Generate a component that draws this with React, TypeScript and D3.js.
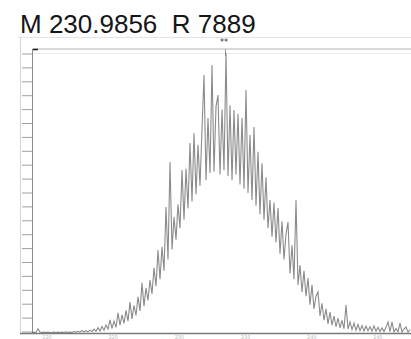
import React from "react";
import * as d3 from "d3";

const titleText = "M 230.9856  R 7889";
const startPx = 32;
const stepPx = 2;
const intensities: number[] = [
  0.2, 0.3, 0.2, 1.5, 0.3, 0.2, 0.3, 0.2, 0.3, 0.2,
  0.2, 0.3, 0.2, 0.3, 0.2, 0.3, 0.2, 0.4, 0.2, 0.3,
  0.2, 0.5, 0.3, 0.6, 0.3, 0.9, 0.4, 0.8, 0.4, 1.0,
  0.5, 1.4, 0.6, 1.9, 0.7, 2.3, 1.0, 2.8, 1.4, 4.6,
  1.6, 4.2, 2.0, 7.1, 2.8, 6.4, 3.4, 8.0, 4.2, 10.9,
  5.0, 9.8, 6.2, 12.8, 7.8, 17.7, 9.5, 16.0, 11.5, 18.7,
  13.8, 23.0, 16.5, 29.3, 19.0, 30.5, 22.0, 44.5, 26.0, 60.4,
  29.5, 41.0, 33.0, 45.5, 37.0, 57.6, 40.0, 58.0, 44.0, 67.1,
  46.5, 70.7, 49.0, 66.5, 52.0, 72.0, 91.2, 54.0, 76.0, 56.5,
  94.7, 57.0, 80.0, 84.1, 56.0, 79.0, 57.5, 98.9, 55.5, 80.5,
  54.0, 78.8, 56.0, 77.5, 52.5, 76.0, 51.0, 85.9, 49.5, 70.0,
  47.0, 72.8, 45.0, 64.0, 42.0, 60.0, 40.0, 55.0, 37.0, 47.0,
  34.0, 46.0, 32.0, 44.2, 28.0, 39.5, 26.0, 35.0, 39.2, 21.0,
  31.0, 19.0, 47.0, 17.0, 24.0, 14.5, 22.0, 13.0, 19.4, 10.0,
  17.0, 8.5, 13.0, 14.5, 6.0, 10.5, 4.5, 8.5, 3.2, 7.4,
  2.8, 6.0, 2.2, 5.3, 1.8, 4.5, 1.5, 9.9, 1.4, 3.9,
  1.2, 3.5, 1.0, 3.0, 0.8, 2.6, 0.7, 2.4, 0.8, 2.2,
  0.6, 2.5, 0.6, 2.0, 0.5, 1.8, 0.5, 2.0, 3.9, 0.5,
  3.9, 0.4, 1.6, 0.4, 3.5, 0.3, 1.4, 2.1, 0.3, 1.2,
];
const yTickCount = 21;
const xTickLabels = ["220", "225", "230", "235", "240", "245"];

export default function App() {
  const W = 411, H = 339;
  const plotLeft = 32, plotTop = 49, plotBottom = 333;
  const x = d3.scaleLinear().domain([0, intensities.length - 1]).range([startPx, startPx + stepPx * (intensities.length - 1)]);
  const y = d3.scaleLinear().domain([0, 100]).range([plotBottom, 50]);
  const line = d3.line<number>().x((_, i) => x(i)).y((d) => y(d));
  const tickY = d3.range(yTickCount).map((i) => d3.scaleLinear().domain([0, yTickCount - 1]).range([54, 332])(i));
  const xLab = d3.scalePoint<string>().domain(xTickLabels).range([47, 378]);
  return (
    <svg width={W} height={H} style={{ position: "absolute", left: 0, top: 0, background: "#fff" }}>
      <rect x={0} y={0} width={W} height={H} fill="#fff" />
      <text x={20} y={33} fontSize={26} fontFamily="Liberation Sans, Arial, sans-serif" fill="#151515" style={{ whiteSpace: "pre" }}>
        {titleText}
      </text>
      <line x1={18} x2={W} y1={37.5} y2={37.5} stroke="#e2e2e2" strokeWidth={1} />
      <line x1={20.5} x2={20.5} y1={37} y2={plotBottom} stroke="#d8d8d8" strokeWidth={1} />
      <line x1={plotLeft} x2={W} y1={plotTop} y2={plotTop} stroke="#b4b4b4" strokeWidth={1} />
      <line x1={plotLeft} x2={W} y1={53.5} y2={53.5} stroke="#ececec" strokeWidth={1} />
      <line x1={33} x2={38} y1={49.5} y2={49.5} stroke="#222" strokeWidth={1.6} />
      <text x={224} y={45} fontSize={8} textAnchor="middle" fontFamily="DejaVu Sans, sans-serif" fill="#333">**</text>
      <line x1={225.5} x2={225.5} y1={49} y2={56} stroke="#888" strokeWidth={0.8} />
      {tickY.map((ty, i) => (
        <line key={i} x1={22} x2={plotLeft} y1={ty} y2={ty} stroke="#a0a0a0" strokeWidth={1} />
      ))}
      <line x1={plotLeft + 0.5} x2={plotLeft + 0.5} y1={plotTop} y2={plotBottom} stroke="#8a8a8a" strokeWidth={1} />
      <path d={line(intensities) || ""} fill="none" stroke="#6e6e6e" strokeOpacity={0.8} strokeWidth={1.1} strokeLinejoin="miter" />
      <line x1={20} x2={W} y1={plotBottom + 0.5} y2={plotBottom + 0.5} stroke="#7a7a7a" strokeWidth={1.5} />
      {xTickLabels.map((t) => (
        <text key={t} x={xLab(t)} y={338.5} fontSize={5} textAnchor="middle" fontFamily="DejaVu Sans, sans-serif" fill="#bbb">{t}</text>
      ))}
    </svg>
  );
}
